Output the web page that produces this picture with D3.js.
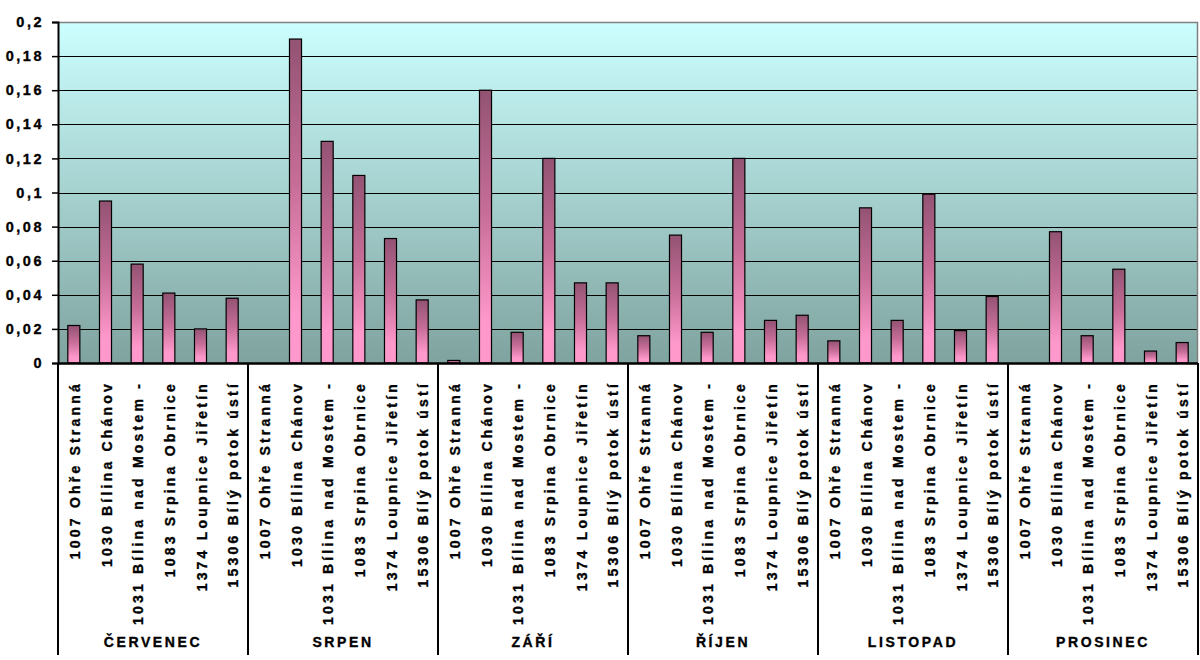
<!DOCTYPE html>
<html>
<head>
<meta charset="utf-8">
<script src="https://cdn.jsdelivr.net/npm/d3@7"></script>
<style>
  html, body { margin: 0; padding: 0; background: #ffffff; }
  svg { display: block; font-family: "Liberation Sans", Arial, sans-serif; }
  text { stroke: #000; stroke-width: 0.35px; }
</style>
</head>
<body>
<svg id="chart" width="1200" height="660"></svg>
<script>
// ---- data ----
const months = ["ČERVENEC", "SRPEN", "ZÁŘÍ", "ŘÍJEN", "LISTOPAD", "PROSINEC"];
const stations = [
  "1007 Ohře Stranná",
  "1030 Bílina Chánov",
  "1031 Bílina nad Mostem -",
  "1083 Srpina Obrnice",
  "1374 Loupnice Jiřetín",
  "15306 Bílý potok ústí"
];
const cervenec = [0.022, 0.095, 0.058, 0.041, 0.020, 0.038];
const srpen    = [null, 0.190, 0.130, 0.110, 0.073, 0.037];
const zari     = [0.0015, 0.160, 0.018, 0.120, 0.047, 0.047];
const rijen    = [0.016, 0.075, 0.018, 0.120, 0.025, 0.028];
const listopad = [0.013, 0.091, 0.025, 0.099, 0.019, 0.039];
const prosinec = [null, 0.077, 0.016, 0.055, 0.007, 0.012];
const yTickValues = [0, 0.02, 0.04, 0.06, 0.08, 0.1, 0.12, 0.14, 0.16, 0.18, 0.2];
const yTickLabels = ["0", "0,02", "0,04", "0,06", "0,08", "0,1", "0,12", "0,14", "0,16", "0,18", "0,2"];

const seriesByMonth = [cervenec, srpen, zari, rijen, listopad, prosinec];

(function () {
// ---- layout ----
const svg = d3.select("#chart");
const pLeft = 58, pRight = 1198, pTop = 22, pBottom = 363;

const rows = [];
months.forEach((m, mi) => {
  stations.forEach((s, si) => {
    rows.push({ key: mi + "|" + si, month: m, station: s, value: seriesByMonth[mi][si], mi, si });
  });
});

const x = d3.scaleBand().domain(rows.map(d => d.key)).range([pLeft, pRight])
  .paddingInner(0.62).paddingOuter(0.31);
const y = d3.scaleLinear().domain([0, 0.2]).range([pBottom, pTop]);

const defs = svg.append("defs");
const bg = defs.append("linearGradient").attr("id", "bgGrad")
  .attr("x1", 0).attr("y1", 0).attr("x2", 0).attr("y2", 1);
bg.append("stop").attr("offset", "0%").attr("stop-color", "#CCFFFF");
bg.append("stop").attr("offset", "100%").attr("stop-color", "#7FA39F");

const bar = defs.append("linearGradient").attr("id", "barGrad")
  .attr("x1", 0).attr("y1", 0).attr("x2", 0).attr("y2", 1);
bar.append("stop").attr("offset", "0%").attr("stop-color", "#935373");
bar.append("stop").attr("offset", "45%").attr("stop-color", "#C76E98");
bar.append("stop").attr("offset", "85%").attr("stop-color", "#FF99CC");
bar.append("stop").attr("offset", "100%").attr("stop-color", "#FF99CC");

// plot background
svg.append("rect").attr("x", pLeft).attr("y", pTop)
  .attr("width", pRight - pLeft).attr("height", pBottom - pTop)
  .attr("fill", "url(#bgGrad)");

// gridlines
svg.append("g").selectAll("line")
  .data(yTickValues.filter(v => v > 0 && v < 0.2))
  .join("line")
  .attr("x1", pLeft).attr("x2", pRight)
  .attr("y1", d => Math.round(y(d)) + 0.5).attr("y2", d => Math.round(y(d)) + 0.5)
  .attr("stroke", "#000").attr("stroke-width", 1.2);

// plot border top/right (grey)
svg.append("path")
  .attr("d", `M${pLeft},${pTop + 0.5}H${pRight - 0.5}V${pBottom}`)
  .attr("fill", "none").attr("stroke", "#808080").attr("stroke-width", 1.5);

// bars
svg.append("g").selectAll("rect")
  .data(rows.filter(d => d.value != null))
  .join("rect")
  .attr("x", d => x(d.key))
  .attr("y", d => y(d.value))
  .attr("width", x.bandwidth())
  .attr("height", d => pBottom - y(d.value))
  .attr("fill", "url(#barGrad)")
  .attr("stroke", "#000").attr("stroke-width", 1.2);

// y axis
const yAxis = d3.axisLeft(y).tickValues(yTickValues)
  .tickFormat((d, i) => yTickLabels[i]).tickSize(6).tickPadding(8);
const gy = svg.append("g").attr("transform", `translate(${pLeft},0)`).call(yAxis);
gy.select(".domain").attr("stroke", "#000").attr("stroke-width", 2);
gy.selectAll(".tick line").attr("stroke", "#000").attr("stroke-width", 1.5);
gy.selectAll(".tick text")
  .attr("font-size", 14.5).attr("font-weight", "bold").attr("fill", "#000")
  .attr("font-family", "'Liberation Sans', Arial, sans-serif")
  .style("letter-spacing", "2.5px");

// x axis baseline
svg.append("line").attr("x1", pLeft).attr("x2", pRight)
  .attr("y1", pBottom + 0.5).attr("y2", pBottom + 0.5)
  .attr("stroke", "#000").attr("stroke-width", 2.5);

// category labels (rotated)
svg.append("g").selectAll("text")
  .data(rows)
  .join("text")
  .attr("transform", d => `translate(${x(d.key) + x.bandwidth() / 2 + 1},381) rotate(-90)`)
  .attr("text-anchor", "end")
  .attr("dominant-baseline", "central")
  .attr("font-size", 14).attr("font-weight", "bold").attr("fill", "#000")
  .style("letter-spacing", "3.2px")
  .text(d => d.station);

// month group separators and labels
const gx = d3.scaleBand().domain(months).range([pLeft, pRight]);
const bounds = months.map(m => gx(m)).concat([pRight]);
svg.append("g").selectAll("line")
  .data(bounds)
  .join("line")
  .attr("x1", d => d).attr("x2", d => d)
  .attr("y1", pBottom).attr("y2", 655)
  .attr("stroke", "#000").attr("stroke-width", 2);

svg.append("g").selectAll("text")
  .data(months)
  .join("text")
  .attr("x", d => gx(d) + gx.bandwidth() / 2)
  .attr("y", 647)
  .attr("text-anchor", "middle")
  .attr("font-size", 14).attr("font-weight", "bold").attr("fill", "#000")
  .style("letter-spacing", "2.6px")
  .text(d => d);
})();
</script>
</body>
</html>
